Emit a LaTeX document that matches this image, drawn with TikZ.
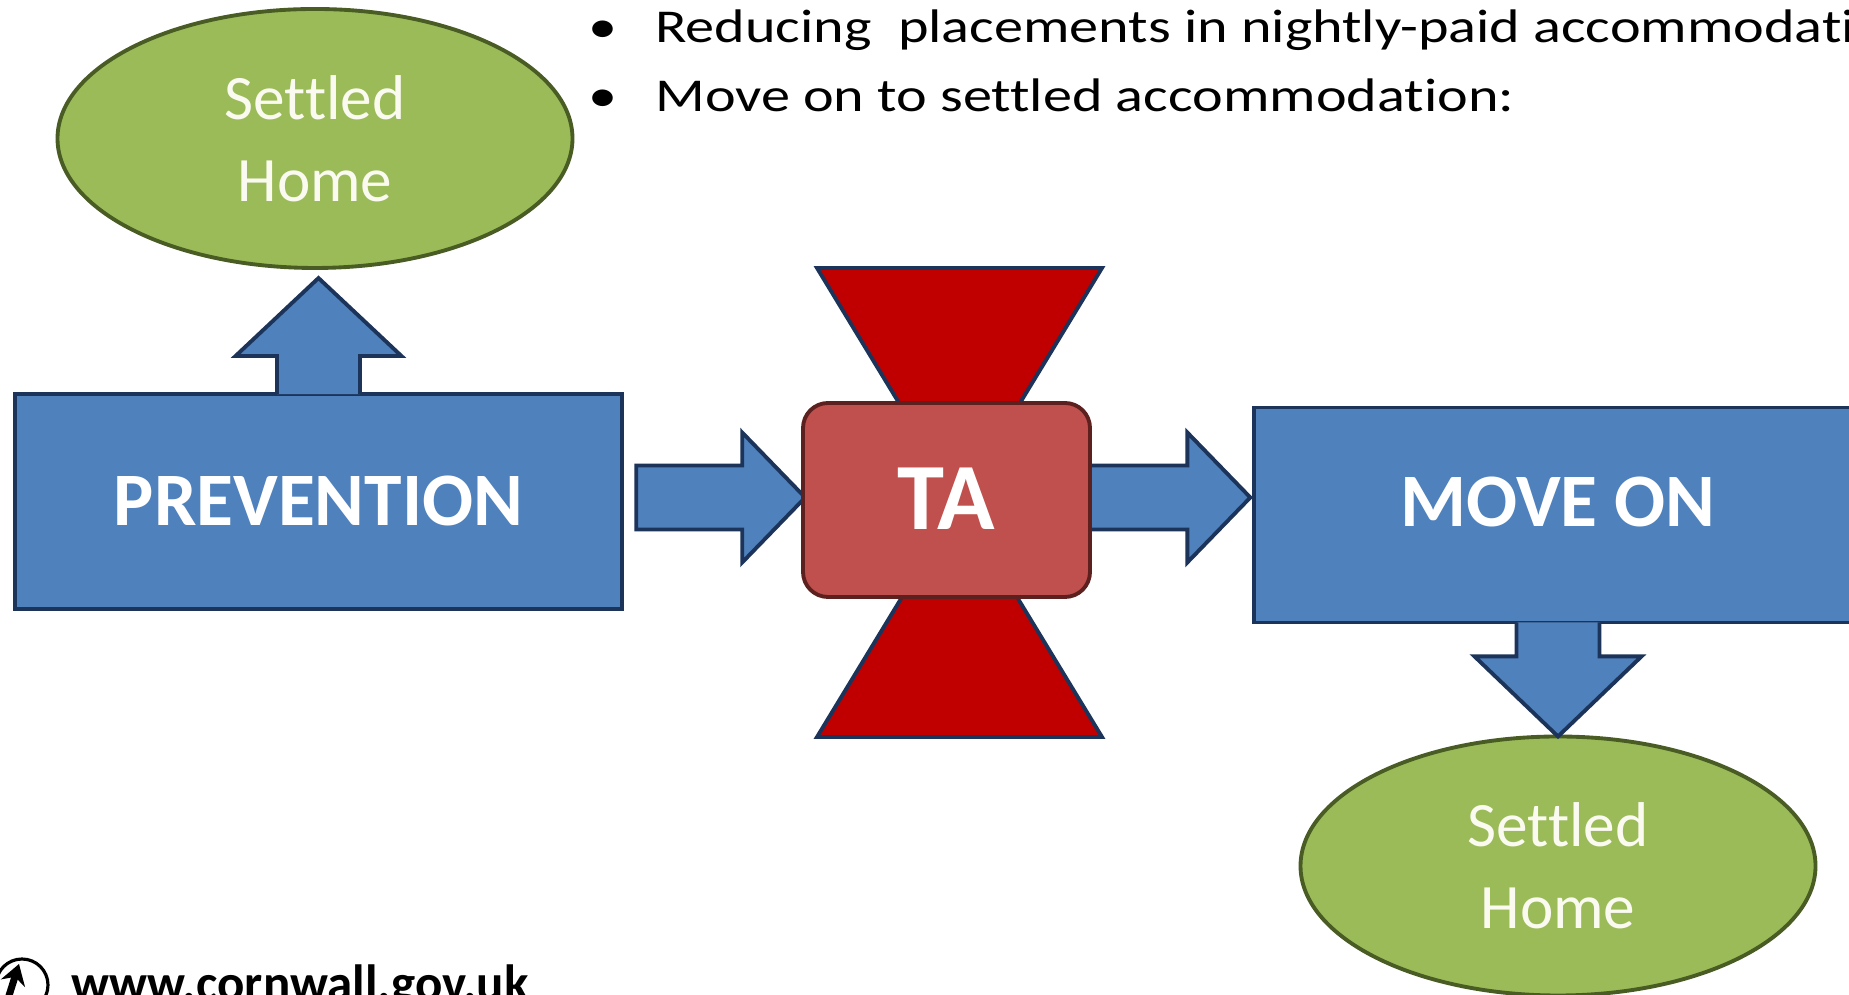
\documentclass[tikz,border=0pt]{standalone}
\usepackage{fontspec}
\setmainfont{Carlito}[Ligatures=NoCommon]
\newfontfamily\bulletfont[FakeStretch=1.235, Ligatures=NoCommon]{Carlito}
\usetikzlibrary{shapes.geometric,calc,arrows.meta}

\begin{document}
\begin{tikzpicture}

\definecolor{blockblue}{RGB}{79, 129, 189}
\definecolor{blockline}{RGB}{28, 52, 90}
\definecolor{homegreen}{RGB}{155, 187, 89}
\definecolor{homeline}{RGB}{72, 92, 36}
\definecolor{homewhite}{RGB}{250, 250, 240}
\definecolor{tared}{RGB}{192, 80, 77}
\definecolor{taline}{RGB}{92, 32, 30}
\definecolor{gatered}{RGB}{192, 0, 0}

% Page frame
\useasboundingbox (0,0) rectangle (36.98,19.9);

\tikzset{
    block/.style={
        draw=blockline, line width=2.2pt, fill=blockblue,
        rectangle, minimum width=12.15cm, minimum height=4.3cm, inner sep=0pt,
        text=white, font=\bfseries\fontsize{43}{48}\selectfont,
        text height=0.96cm, text depth=0pt
    },
    home/.style={
        draw=homeline, line width=2.2pt, fill=homegreen,
        ellipse, minimum width=10.3cm, minimum height=5.18cm, inner sep=0pt,
        text=homewhite, align=center, font=\fontsize{36}{46.6}\selectfont
    },
    ta box/.style={
        draw=taline, line width=2.2pt, fill=tared,
        rectangle, rounded corners=0.5cm,
        minimum width=5.74cm, minimum height=3.88cm, inner sep=0pt,
        text=white, font=\bfseries\fontsize{54}{60}\selectfont,
        text height=1.2cm, text depth=0pt
    },
    block arrow/.style={
        draw=blockline, line width=2.2pt, fill=blockblue, line join=miter
    },
    hourglass/.style={
        draw=blockline, line width=2.2pt, fill=gatered, line join=miter
    }
}

% Bullet text
\node[anchor=base west, inner sep=0pt, font=\bulletfont\fontsize{26.8}{39.2}\selectfont] (bullets) at (11.76,19.04) {%
    \begin{tabular}[t]{@{}p{1.34cm}@{}l@{}}
    \textbullet & Reducing\ \ placements in nightly-paid accommodation\\
    \textbullet & Move on to settled accommodation:
    \end{tabular}};

% --- LEFT SIDE ---
\node[home] (hometop) at (6.3,17.13) {Settled\\Home};
\node[block] (prevention) at (6.37,9.87) {PREVENTION};

% Up arrow
\path[block arrow] ($(prevention.north)+(-0.83,-0.04)$) -- ++(0,0.76) -- ++(-0.83,0)
    -- ($(prevention.north)+(0,2.28)$) -- ++(1.66,-1.56) -- ++(-0.83,0) -- ++(0,-0.76);

% --- RIGHT SIDE ---
\node[home] (homebottom) at (31.16,2.58) {Settled\\Home};
\node[block, text depth=0.48cm] (moveon) at (31.16,9.6) {MOVE ON};

% Down arrow
\path[block arrow] ($(moveon.south)+(-0.83,0.04)$) -- ++(0,-0.68) -- ++(-0.84,0)
    -- ($(moveon.south)+(0,-2.24)$) -- ++(1.67,1.6) -- ++(-0.84,0) -- ++(0,0.68);

% --- TA GATE ---
\coordinate (gate) at (19.19,9.85);
\draw[hourglass, shift={(gate)}] (-2.85,4.69) -- (2.85,4.69) -- (-2.85,-4.69) -- (2.85,-4.69) -- cycle;

% Flow arrows
\draw[block arrow] ($(prevention.east)+(0.24,0.72)$) -- ++(2.12,0) -- ++(0,0.66)
    -- ++(1.26,-1.3) -- ++(-1.26,-1.3) -- ++(0,0.66) -- ++(-2.12,0) -- cycle;
\draw[block arrow] ($(moveon.west)+(-0.04,0.35)$) -- ++(-1.26,1.3) -- ++(0,-0.66)
    -- ++(-2.2,0) -- ++(0,-1.28) -- ++(2.2,0) -- ++(0,-0.66) -- cycle;

\node[ta box] (ta) at (18.93,9.9) {TA};

% Footer
\node[circle, draw, line width=1.8pt, minimum size=1.04cm, inner sep=0pt] (logo) at (0.44,0.2) {};
\draw[line width=4pt, -{Stealth[length=0.4cm, width=0.5cm]}] ($(logo.center)+(-0.3,-0.34)$) -- ($(logo.center)+(-0.06,0.42)$);
\node[anchor=base west, inner sep=0pt, font=\bfseries\fontsize{29}{32}\selectfont] (weblink) at (1.42,-0.12) {www.cornwall.gov.uk};

\end{tikzpicture}
\end{document}
